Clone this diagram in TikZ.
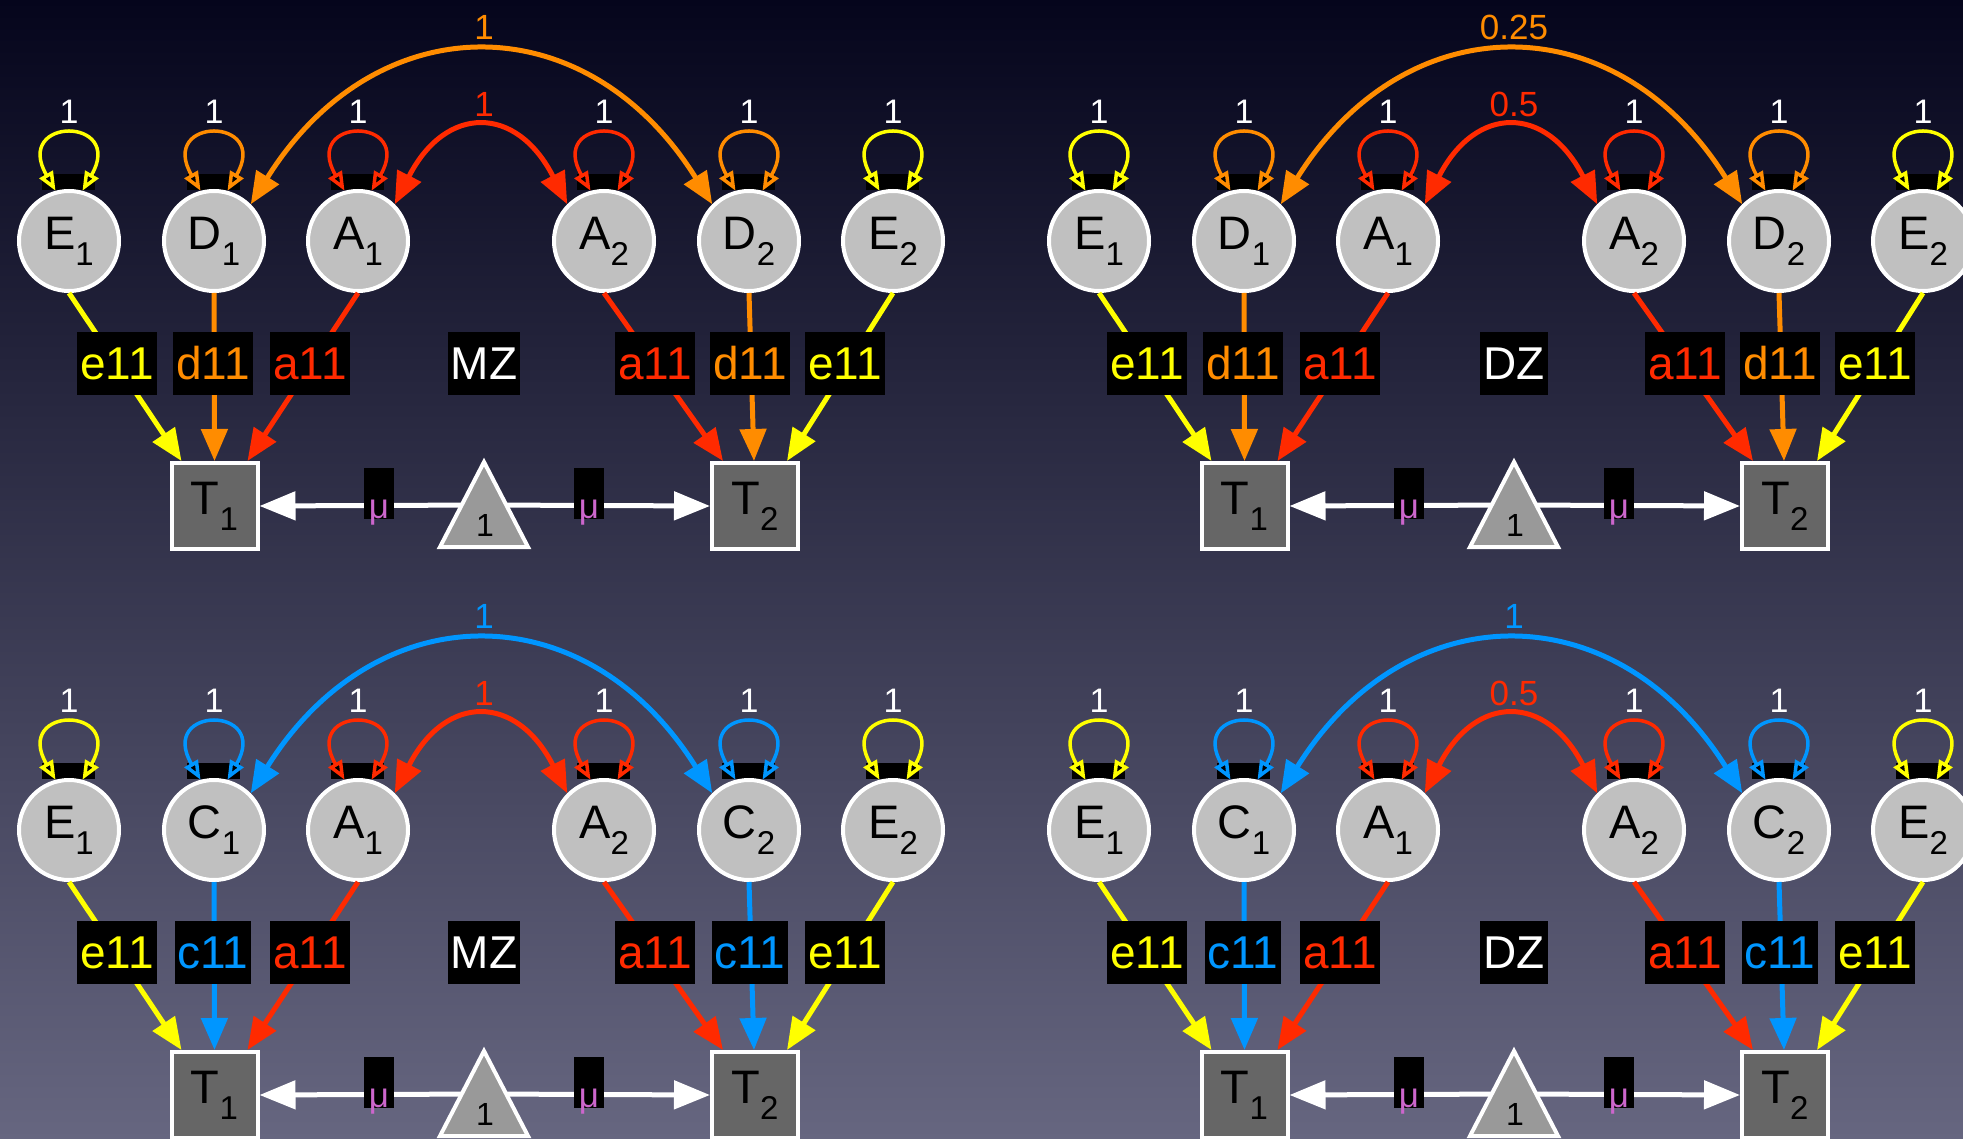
\documentclass[tikz,border=0pt]{standalone}
\usepackage{fontspec}
\setmainfont{Liberation Sans}
\usetikzlibrary{arrows.meta,calc}

\definecolor{bgtop}{RGB}{5,5,28}
\definecolor{bgmid}{RGB}{52,52,82}
\definecolor{bgbot}{RGB}{102,102,128}
\definecolor{cyel}{RGB}{255,255,0}
\definecolor{cora}{RGB}{255,140,0}
\definecolor{cred}{RGB}{255,42,0}
\definecolor{cblu}{RGB}{0,150,255}
\definecolor{mucol}{RGB}{204,102,204}
\definecolor{latfill}{RGB}{192,192,192}
\definecolor{obsfill}{RGB}{102,102,102}
\definecolor{trifill}{RGB}{153,153,153}

\newcommand\lowsub[1]{\raisebox{-16pt}{\fontsize{33}{33}\selectfont #1}}
\newcommand\lowsubT[1]{\raisebox{-16pt}{\fontsize{33}{33}\selectfont #1}}

\tikzset{
 latentnode/.style={circle, fill=latfill, draw=white, line width=4pt, minimum size=100pt, inner sep=0pt, font=\fontsize{47}{47}\selectfont, text=black},
 obs/.style={rectangle, fill=obsfill, draw=white, line width=4pt, minimum size=86pt, inner sep=0pt, font=\fontsize{47}{47}\selectfont, text=black},
 loopline/.style={line width=3.5pt, {Triangle[open,length=19pt,width=15pt]}-{Triangle[open,length=19pt,width=15pt]}},
 looplabel/.style={font=\fontsize{34}{34}\selectfont, text=white, inner sep=0pt},
 arcline/.style={line width=5pt, {Triangle[length=32pt,width=26pt]}-{Triangle[length=32pt,width=26pt]}},
 arclabel/.style={font=\fontsize{35}{35}\selectfont, inner sep=0pt},
 pathline/.style={line width=5pt, -{Triangle[length=32pt,width=26pt]}},
 pathlabel/.style={fill=black, font=\fontsize{46}{46}\selectfont, minimum height=63pt, inner xsep=3pt, inner ysep=0pt},
 meanline/.style={draw=white, fill=white, line width=5pt, -{Triangle[length=36pt,width=28pt]}},
 trishape/.style={fill=trifill, draw=white, line width=4pt, line join=miter},
 trilabel/.style={font=\fontsize{32}{32}\selectfont, text=black, anchor=base, inner sep=0pt},
 mubox/.style={fill=black, minimum width=30pt, minimum height=51pt, inner sep=0pt},
 mutext/.style={font=\fontsize{35}{35}\selectfont, text=mucol, anchor=base, inner sep=0pt},
}

% latent variable with self loop: name, x, letter, subscript, colour
\newcommand\latent[5]{%
  \fill[black] (#2-27,-174) rectangle (#2+26,-190);
  \node[latentnode] (#1) at (#2,-241) {#3\lowsub{#4}};
  \draw[loopline, draw=#5] (#1.105) .. controls +(120:86) and +(60:86) .. (#1.75);
  \node[looplabel] (#1-v) at (#2,-112) {1};
}

% dx, dy, prefix, letter, lowercase, colour, big arc label, small arc label, group
\newcommand\twinpanel[9]{%
\begin{scope}[shift={(#1,-#2)}, name prefix=#3-]
  \latent{E1}{69}{E}{1}{cyel}
  \latent{S1}{214}{#4}{1}{#6}
  \latent{A1}{358}{A}{1}{cred}
  \latent{A2}{604}{A}{2}{cred}
  \latent{S2}{749}{#4}{2}{#6}
  \latent{E2}{893}{E}{2}{cyel}
  \node[obs] (T1) at (214.5,-506) {T\lowsubT{1}};
  \node[obs] (T2) at (755,-506) {T\lowsubT{2}};
  \draw[arcline, #6] (S1.45) .. controls +(58:237) and +(122:237) .. (S2.135);
  \node[arclabel, text=#6] (bigv) at (484,-27) {#7};
  \draw[arcline, cred] (A1.45) .. controls +(63:112) and +(117:112) .. (A2.135);
  \node[arclabel, text=cred] (smallv) at (484,-104) {#8};
  \draw[pathline, cyel] (E1.south) -- ($(T1.north)+(-33,0)$);
  \draw[pathline, #6] (S1.south) -- (T1.north);
  \draw[pathline, cred] (A1.south) -- ($(T1.north)+(33,0)$);
  \draw[pathline, cred] (A2.south) -- ($(T2.north)+(-32,0)$);
  \draw[pathline, #6] (S2.south) -- ($(T2.north)+(-1,0)$);
  \draw[pathline, cyel] (E2.south) -- ($(T2.north)+(32,0)$);
  \node[pathlabel, text=cyel] (le1) at (117,-363.5) {e11};
  \node[pathlabel, text=#6] (ls1) at (213,-363.5) {#511};
  \node[pathlabel, text=cred] (la1) at (310,-363.5) {a11};
  \node[pathlabel, text=white] (grp) at (484,-363.5) {#9};
  \node[pathlabel, text=cred] (la2) at (655,-363.5) {a11};
  \node[pathlabel, text=#6] (ls2) at (750,-363.5) {#511};
  \node[pathlabel, text=cyel] (le2) at (845,-363.5) {e11};
  \coordinate (one) at (484,-505);
  \draw[meanline] (one) -- (T1.east);
  \draw[meanline] (one) -- (T2.west);
  \draw[trishape] (484,-462) -- (528,-547) -- (440,-547) -- cycle;
  \node[trilabel] (onev) at (485,-536) {1};
  \node[mubox] (mu1) at (379,-493.5) {};
  \node[mubox] (mu2) at (589,-493.5) {};
  \node[mutext] (mu1t) at (379,-518) {μ};
  \node[mutext] (mu2t) at (589,-518) {μ};
\end{scope}}

\begin{document}
\begin{tikzpicture}[x=1pt, y=1pt]
  \useasboundingbox (0,0) rectangle (1963,-1139);
  \clip (0,0) rectangle (1963,-1139);
  \shade[top color=bgtop, middle color=bgmid, bottom color=bgbot] (0,0) rectangle (1963,-1139);
  \twinpanel{0}{0}{tl}{D}{d}{cora}{1}{1}{MZ}
  \twinpanel{1030}{0}{tr}{D}{d}{cora}{0.25}{0.5}{DZ}
  \twinpanel{0}{589}{bl}{C}{c}{cblu}{1}{1}{MZ}
  \twinpanel{1030}{589}{br}{C}{c}{cblu}{1}{0.5}{DZ}
\end{tikzpicture}
\end{document}
